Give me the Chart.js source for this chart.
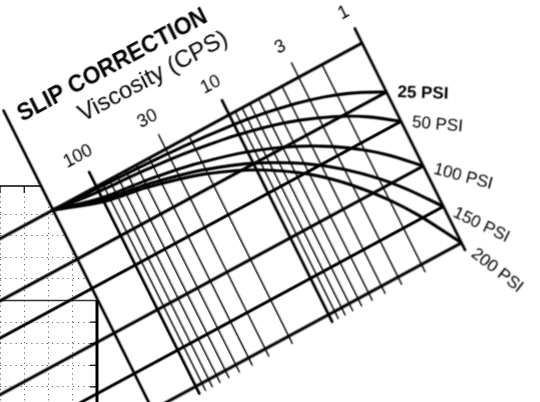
<!DOCTYPE html>
<html><head><meta charset="utf-8">
<script src="https://cdn.jsdelivr.net/npm/chart.js@4.4.1/dist/chart.umd.min.js"></script>
<style>
html,body{margin:0;padding:0;background:#fff;overflow:hidden;}
#wrap{position:relative;width:540px;height:402px;overflow:hidden;background:#fff;}
#base{position:absolute;left:0;top:0;}
#nomo{position:absolute;left:0;top:0;transform-origin:0 0;}
</style></head><body>
<div id="wrap"><canvas id="base" width="540" height="402"></canvas><canvas id="nomo" width="771" height="641"></canvas></div>
<script>
// ---------- data ----------
const viscosityGrid = [100,90,80,70,60,50,40,30,20,10,9,8,7,6,5,4,3,2,1];
const majorViscosity = [100,10,1];
const viscosityTickLabels = [100,30,10,3,1];
const frameViscosity = 212;          // viscosity at the left edge of the slip frame
const lineStartViscosity = 5000;     // straight lines come in from the left chart
const pressureLabels = ['25 PSI','50 PSI','100 PSI','150 PSI','200 PSI'];
const pressureSlip = [0.237,0.379,0.594,0.79,0.965];   // slip at 1 CPS
const curveViscosity = [212,100,50,30,20,10,5,3,2,1.5,1];
const slip25  = [0,0.009,0.015,0.022,0.029,0.047,0.077,0.110,0.146,0.179,0.237];
const slip50  = [0,0.024,0.036,0.049,0.063,0.095,0.144,0.196,0.249,0.296,0.379];
const slip100 = [0,0.054,0.078,0.101,0.125,0.179,0.257,0.335,0.413,0.480,0.594];
const slip150 = [0,0.064,0.095,0.128,0.160,0.234,0.340,0.445,0.550,0.640,0.790];
const slip200 = [0,0.073,0.108,0.144,0.180,0.266,0.392,0.522,0.654,0.769,0.965];
const leftGridX = [0,1,2,3,4];
const leftGridY = [0,1,2,3,4,5,6,7,8];
const leftBoxTop = 4, leftBoxRight = 4;

// ---------- layout / style ----------
const FRAME_O = {x:53, y:210}, FRAME_TR = {x:362, y:43}, FRAME_BR = {x:465, y:250};
const FONT = '"Liberation Sans", Arial, Helvetica, sans-serif';
const labelAngles = [2, 5, 15, 26, 38];
const labelOffsets = [11, 11, 11, 12, 15];
const labelBold = [true, false, false, false, false];

function frameMatrix(chart){
  const xs = chart.scales.x, ys = chart.scales.y;
  const L = xs.getPixelForValue(frameViscosity), R = xs.getPixelForValue(1);
  const T = ys.getPixelForValue(0), B = ys.getPixelForValue(1);
  const cw = R - L, ch = B - T;
  const a = (FRAME_TR.x - FRAME_O.x)/cw, b = (FRAME_TR.y - FRAME_O.y)/cw;
  const c = (FRAME_BR.x - FRAME_TR.x)/ch, d = (FRAME_BR.y - FRAME_TR.y)/ch;
  const e = FRAME_O.x - a*L - c*T, f = FRAME_O.y - b*L - d*T;
  return {a,b,c,d,e,f,L,T,cw,ch};
}

function lineDS(data, width){
  return {data, showLine:true, borderColor:'#000', borderWidth:width, pointRadius:0,
          fill:false, clip:false, borderCapStyle:'butt', borderJoinStyle:'round'};
}

const datasets = [];
viscosityGrid.forEach(m => {
  const ticked = viscosityTickLabels.includes(m);
  datasets.push(lineDS([{x:m, y: ticked ? -0.07 : 0}, {x:m, y:1}], majorViscosity.includes(m) ? 2.7 : 1.4));
});
datasets.push(lineDS([{x:frameViscosity, y:-0.48}, {x:frameViscosity, y:1.25}], 2.7));
[0, ...pressureSlip].forEach(v => datasets.push(lineDS([{x:lineStartViscosity, y:v}, {x:1, y:v}], 3)));
[slip25, slip50, slip100, slip150, slip200].forEach(s => {
  const ds = lineDS(curveViscosity.map((m,i) => ({x:m, y:s[i]})), 3);
  ds.cubicInterpolationMode = 'monotone';
  datasets.push(ds);
});

const nomoPlugin = {
  id:'nomo',
  beforeDatasetsDraw(chart){
    const ctx = chart.ctx;
    const x0 = chart.scales.x.getPixelForValue(frameViscosity);
    ctx.save(); ctx.fillStyle = '#fff';
    ctx.fillRect(x0, 0, chart.width - x0, chart.height);
    ctx.restore();
  },
  afterDraw(chart){
    const ctx = chart.ctx, xs = chart.scales.x, ys = chart.scales.y;
    const M = frameMatrix(chart);
    ctx.save();
    ctx.fillStyle = '#000';
    ctx.textAlign = 'center'; ctx.textBaseline = 'middle';
    ctx.font = 'bold 23px ' + FONT;
    ctx.fillText('SLIP CORRECTION', M.L + 0.335*M.cw, M.T - 0.425*M.ch);
    ctx.font = '24px ' + FONT;
    ctx.fillText('Viscosity (CPS)', M.L + 0.425*M.cw, M.T - 0.300*M.ch);
    ctx.font = '18px ' + FONT;
    viscosityTickLabels.forEach(m => {
      ctx.fillText(String(m), xs.getPixelForValue(m) - 3, M.T - 0.152*M.ch);
    });
    // pressure labels: placed along each curve end, angles
    const det = M.a*M.d - M.b*M.c;
    const inv = (px, py) => [( M.d*px - M.c*py)/det, (-M.b*px + M.a*py)/det];
    ctx.textAlign = 'left';
    pressureLabels.forEach((lab, i) => {
      const th = labelAngles[i]*Math.PI/180;
      const cx = xs.getPixelForValue(1), cy = ys.getPixelForValue(pressureSlip[i]);
      const off = inv(labelOffsets[i]*Math.cos(th), labelOffsets[i]*Math.sin(th));
      const u1 = inv(Math.cos(th), Math.sin(th)), u2 = inv(-Math.sin(th), Math.cos(th));
      ctx.save();
      ctx.translate(cx + off[0], cy + off[1]);
      ctx.transform(u1[0], u1[1], u2[0], u2[1], 0, 0);
      ctx.font = (labelBold[i] ? 'bold ' : '') + '17px ' + FONT;
      ctx.fillText(lab, 0, 0);
      ctx.restore();
    });
    ctx.restore();
    chart.canvas.style.transform = `matrix(${M.a},${M.b},${M.c},${M.d},${M.e},${M.f})`;
  }
};

const nomoChart = new Chart(document.getElementById('nomo'), {
  type:'scatter',
  data:{datasets},
  options:{
    responsive:false, animation:false, devicePixelRatio:1, events:[],
    layout:{padding:{left:220, top:220, right:200, bottom:190}},
    elements:{line:{capBezierPoints:false}},
    plugins:{legend:{display:false}, tooltip:{enabled:false}},
    scales:{
      x:{type:'logarithmic', min:1, max:frameViscosity, reverse:true, bounds:'data', display:false},
      y:{type:'linear', min:0, max:1, reverse:true, bounds:'data', display:false}
    }
  },
  plugins:[nomoPlugin]
});

// ---------- left (partially hidden) chart ----------
const basePlugin = {
  id:'baseFrame',
  afterDraw(chart){
    const ctx = chart.ctx, xs = chart.scales.x, ys = chart.scales.y, ca = chart.chartArea;
    const seg = (x1,y1,x2,y2,w) => { ctx.beginPath(); ctx.lineWidth = w; ctx.moveTo(x1,y1); ctx.lineTo(x2,y2); ctx.stroke(); };
    ctx.save(); ctx.strokeStyle = '#000';
    seg(ca.left, ca.top, ca.right, ca.top, 1.6);
    leftGridX.forEach(v => { const x = xs.getPixelForValue(v); seg(x, ca.top, x, ca.top + 7, 1.2); });
    const by = ys.getPixelForValue(leftBoxTop), bx = xs.getPixelForValue(leftBoxRight);
    ctx.strokeStyle = '#333';
    seg(ca.left, by, bx, by, 1.5);
    ctx.strokeStyle = '#000';
    seg(bx, by, bx, ca.bottom, 3);
    leftGridY.filter(v => v < leftBoxTop).forEach(v => { const y = ys.getPixelForValue(v); seg(bx - 7, y, bx, y, 1.2); });
    ctx.restore();
  }
};
const gridOpts = {color:'#666', lineWidth:1, drawTicks:false};
new Chart(document.getElementById('base'), {
  type:'scatter',
  data:{datasets:[]},
  options:{
    responsive:false, animation:false, devicePixelRatio:1, events:[],
    layout:{padding:{left:0, top:186, right:443, bottom:0}},
    plugins:{legend:{display:false}, tooltip:{enabled:false}},
    scales:{
      x:{type:'linear', min:0, max:4, bounds:'data',
         afterBuildTicks: s => { s.ticks = leftGridX.map(v => ({value:v})); },
         ticks:{display:false}, grid:gridOpts, border:{display:false, dash:[1.2,4]}},
      y:{type:'linear', min:-0.7, max:9.3, bounds:'data',
         afterBuildTicks: s => { s.ticks = leftGridY.map(v => ({value:v})); },
         ticks:{display:false}, grid:gridOpts, border:{display:false, dash:[1.2,4]}}
    }
  },
  plugins:[basePlugin]
});
</script>
</body></html>
